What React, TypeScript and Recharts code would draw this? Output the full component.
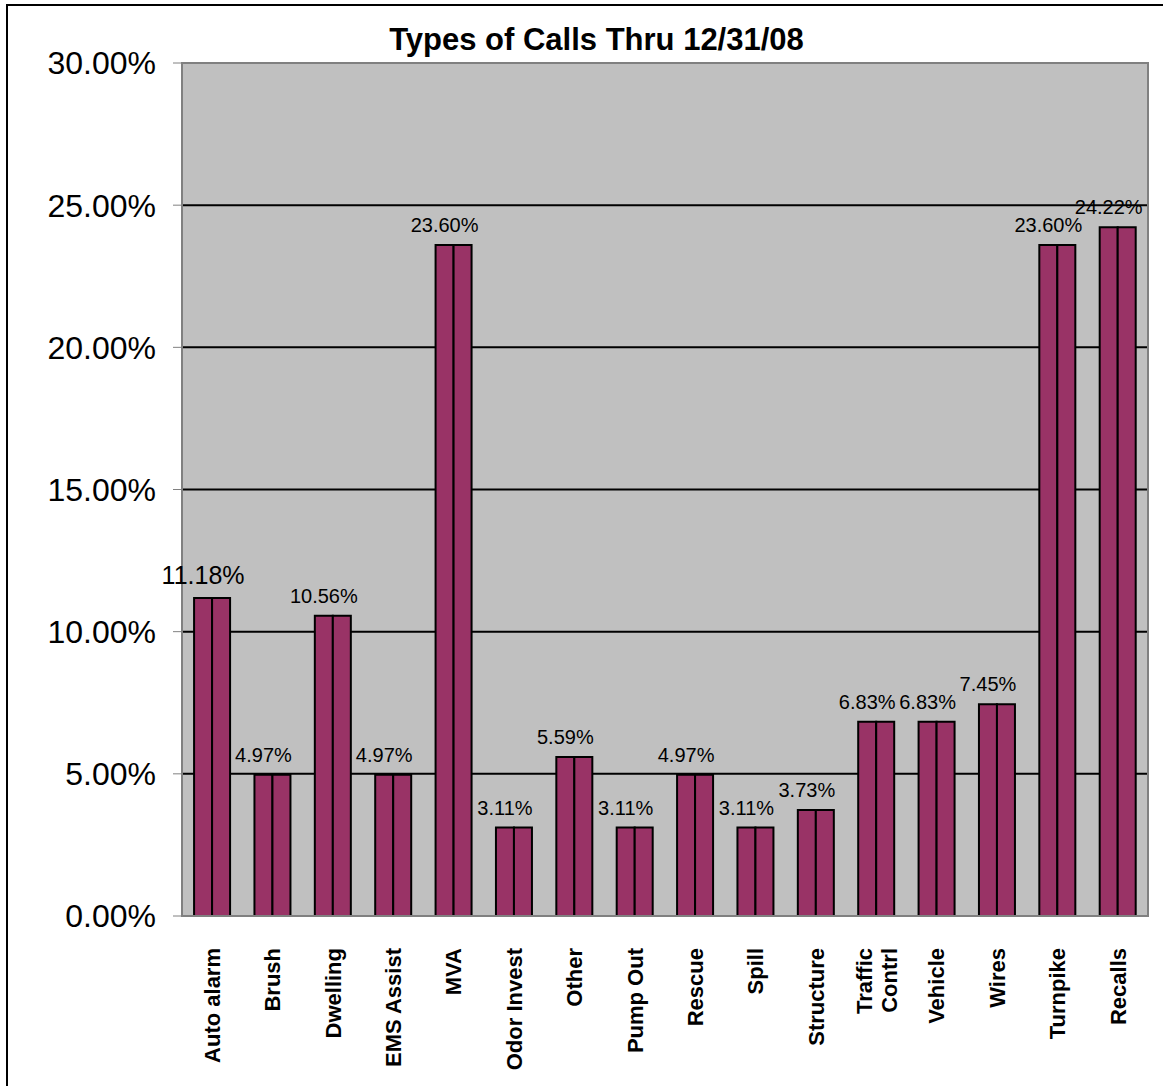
import React from "react";
import { BarChart, Bar, CartesianGrid, XAxis, YAxis, LabelList, ReferenceArea } from "recharts";

const categories = [
  "Auto alarm", "Brush", "Dwelling", "EMS Assist", "MVA", "Odor Invest", "Other", "Pump Out",
  "Rescue", "Spill", "Structure", "Traffic Contrl", "Vehicle", "Wires", "Turnpike", "Recalls",
];
const shares = [11.18, 4.97, 10.56, 4.97, 23.6, 3.11, 5.59, 3.11, 4.97, 3.11, 3.73, 6.83, 6.83, 7.45, 23.6, 24.22];
const yTicks = [0, 5, 10, 15, 20, 25, 30];
const wrapped: Record<string, string[]> = { "Traffic Contrl": ["Traffic", "Contrl"] };

const data = categories.map((name, i) => ({ name, a: shares[i], b: shares[i] }));

const FONT = "'Liberation Sans', Arial, sans-serif";

function CategoryTick(props: any) {
  const { x, y, payload } = props;
  const lines = wrapped[payload.value] || [payload.value];
  const lh = 25;
  return (
    <g transform={`translate(${x},${y})`}>
      {lines.map((ln, i) => (
        <text
          key={i}
          x={-24}
          y={(i - (lines.length - 1) / 2) * lh}
          dy="0.35em"
          textAnchor="end"
          transform="rotate(-90)"
          fontFamily={FONT}
          fontWeight="bold"
          fontSize={22}
          fill="#000"
        >
          {ln}
        </text>
      ))}
    </g>
  );
}

function ValueLabel(props: any) {
  const { x, y, width, value, index } = props;
  const big = index === 0;
  return (
    <text
      x={x + width / 2}
      y={y - (big ? 14 : 13)}
      textAnchor="middle"
      fontFamily={FONT}
      fontSize={big ? 25 : 20}
      fill="#000"
    >
      {Number(value).toFixed(2)}%
    </text>
  );
}

export default function App() {
  return (
    <div style={{ position: "absolute", left: 0, top: 0, width: 1163, height: 1086, background: "#fff", overflow: "hidden" }}>
      <div
        style={{
          position: "absolute", left: 6, top: 4, width: 1200, height: 1200,
          borderLeft: "2px solid #000", borderTop: "2px solid #000",
        }}
      />
      <div
        style={{
          position: "absolute", left: 0, top: 22, width: 1193, textAlign: "center",
          fontFamily: FONT, fontWeight: "bold", fontSize: 31, lineHeight: "36px",
        }}
      >
        Types of Calls Thru 12/31/08
      </div>
      <div style={{ position: "absolute", left: 0, top: 0 }}>
        <BarChart
          width={1163}
          height={1086}
          data={data}
          margin={{ top: 63, right: 15, bottom: 20, left: 0 }}
          barCategoryGap="20%"
          barGap={0}
        >
          <CartesianGrid fill="#C0C0C0" stroke="#000" strokeWidth={2} vertical={false} horizontalValues={[5, 10, 15, 20, 25]} />
          <ReferenceArea y1={0} y2={30} fill="none" stroke="#808080" strokeWidth={2} fillOpacity={0} />
          <XAxis
            dataKey="name"
            interval={0}
            height={150}
            tick={<CategoryTick />}
            tickLine={false}
            axisLine={{ stroke: "#808080", strokeWidth: 2 }}
          />
          <YAxis
            width={182}
            domain={[0, 30]}
            ticks={yTicks}
            tickFormatter={(v: number) => `${v.toFixed(2)}%`}
            tick={{ fontFamily: FONT, fontSize: 32, fill: "#000" }}
            tickSize={9}
            tickMargin={17}
            tickLine={{ stroke: "#808080" }}
            axisLine={{ stroke: "#808080", strokeWidth: 2 }}
          />
          <Bar dataKey="a" fill="#993366" stroke="#000" strokeWidth={2} isAnimationActive={false}>
            <LabelList dataKey="a" content={<ValueLabel />} />
          </Bar>
          <Bar dataKey="b" fill="#993366" stroke="#000" strokeWidth={2} isAnimationActive={false} />
        </BarChart>
      </div>
    </div>
  );
}
